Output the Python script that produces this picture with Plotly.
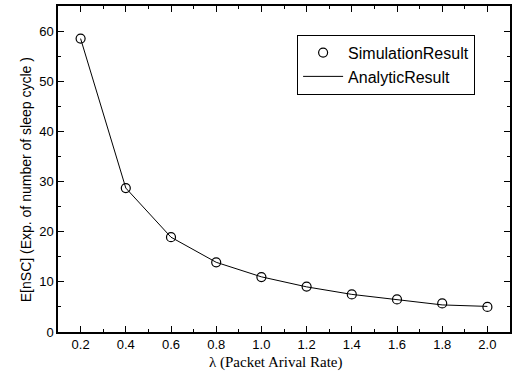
import plotly.graph_objects as go

lam = [0.2, 0.4, 0.6, 0.8, 1.0, 1.2, 1.4, 1.6, 1.8, 2.0]
sim = [58.5, 28.7, 18.9, 13.9, 10.95, 9.05, 7.5, 6.5, 5.7, 5.0]
ana = [58.5, 28.7, 18.9, 13.9, 11.0, 9.0, 7.5, 6.4, 5.4, 5.1]

fig = go.Figure()
fig.add_trace(go.Scatter(x=lam, y=sim, mode="markers", name="SimulationResult",
                         marker=dict(symbol="circle-open", size=9, color="black",
                                     line=dict(width=1.2, color="black"))))
fig.add_trace(go.Scatter(x=lam, y=ana, mode="lines", name="AnalyticResult",
                         line=dict(color="black", width=1)))

axis_common = dict(showline=True, linecolor="black", linewidth=1.5, mirror="ticks",
                   ticks="inside", ticklen=6, tickwidth=1.3, tickcolor="black",
                   showgrid=False, zeroline=False,
                   tickfont=dict(family="Arial", size=13, color="black"))

fig.update_xaxes(range=[0.1, 2.1], tickvals=lam, ticktext=[f"{v:.1f}" for v in lam],
                 minor=dict(ticks="inside", ticklen=3, tickwidth=1, tickcolor="black", dtick=0.1, tick0=0.1),
                 **axis_common)
fig.update_yaxes(range=[0, 65], tickvals=[0, 10, 20, 30, 40, 50, 60],
                 minor=dict(ticks="inside", ticklen=3, tickwidth=1, tickcolor="black", dtick=5, tick0=0),
                 **axis_common)

fig.add_annotation(text="λ (Packet Arival Rate)", xref="paper", yref="paper",
                   x=0.482, y=-0.0945, xanchor="center", yanchor="middle", showarrow=False,
                   font=dict(family="Times New Roman, Liberation Serif", size=15, color="black"))
fig.add_annotation(text="E[nSC] (Exp. of number of sleep cycle )", xref="paper", yref="paper",
                   x=-0.0705, y=0.466, xanchor="center", yanchor="middle", showarrow=False,
                   textangle=-90, font=dict(family="Arial", size=14, color="black"))

fig.update_layout(width=516, height=381, margin=dict(l=58, r=4, t=4, b=49),
                  plot_bgcolor="white", paper_bgcolor="white",
                  legend=dict(x=0.529, y=0.912, xanchor="left", yanchor="top",
                              bordercolor="black", borderwidth=1, bgcolor="white",
                              font=dict(family="Arial", size=16, color="black"),
                              tracegroupgap=0, itemwidth=40))
fig.write_html("out.html")
